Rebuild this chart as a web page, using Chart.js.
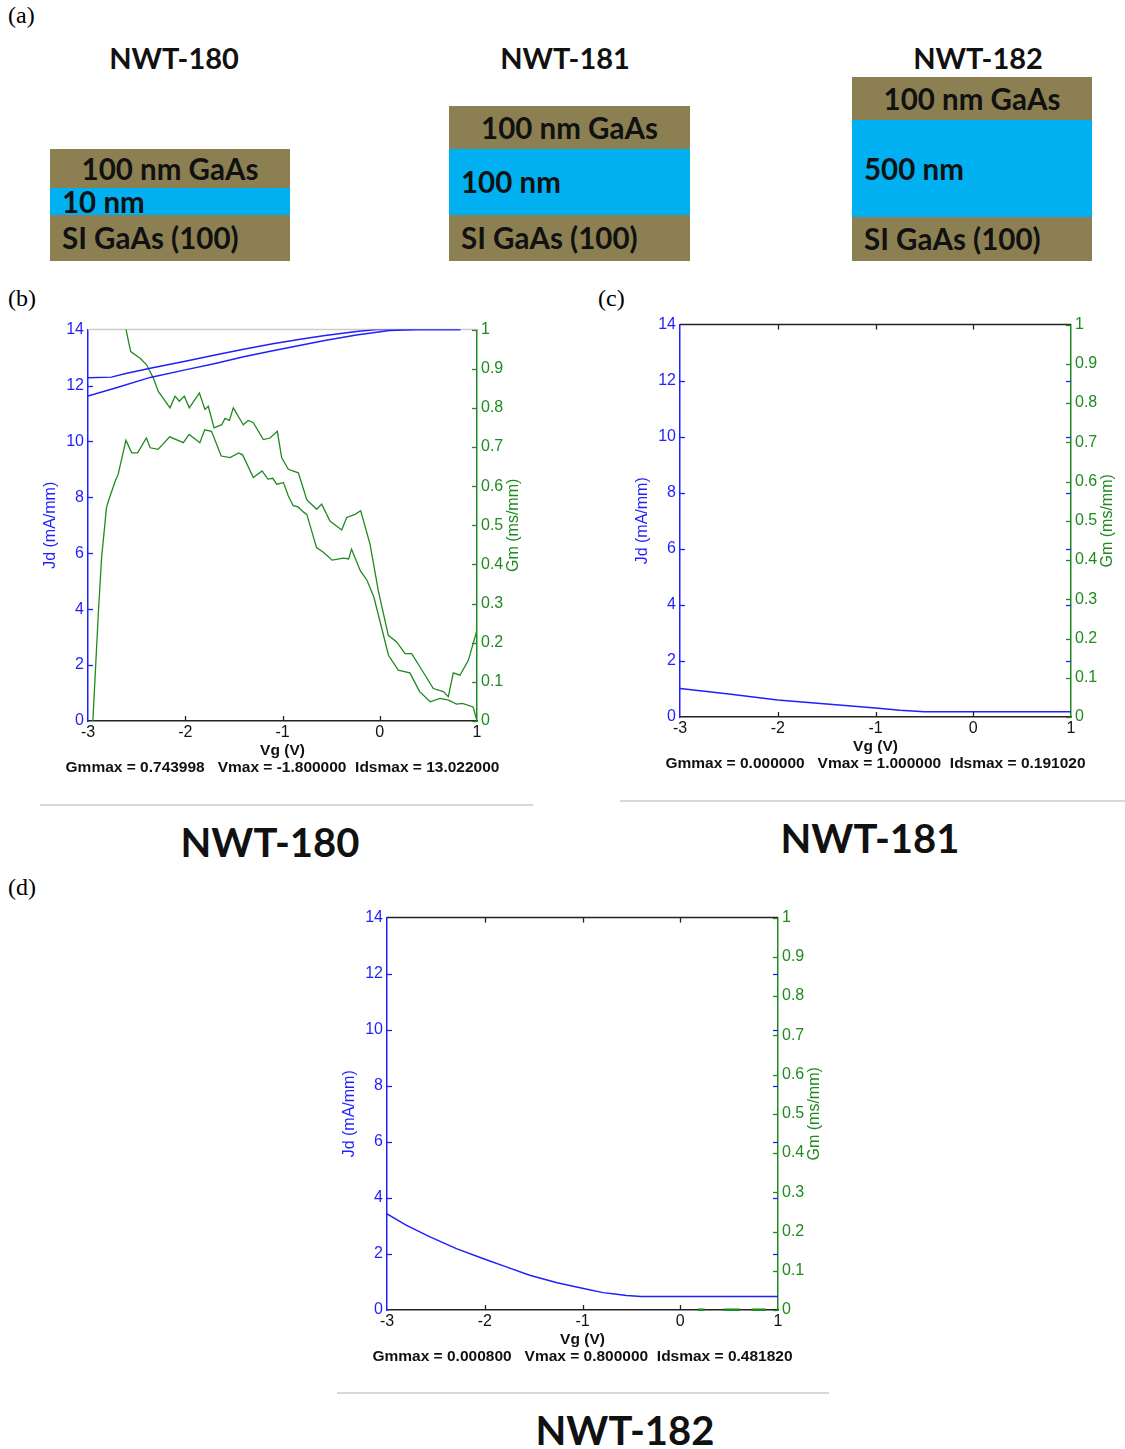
<!DOCTYPE html>
<html>
<head>
<meta charset="utf-8">
<title>NWT transfer characteristics</title>
<script src="https://cdn.jsdelivr.net/npm/chart.js@4.4.1/dist/chart.umd.min.js"></script>
<style>
html,body{margin:0;padding:0;background:#fff;}
body{position:relative;width:1125px;height:1449px;overflow:hidden;}
.tag{position:absolute;font-family:"Liberation Serif","Times New Roman",serif;font-size:24px;line-height:24px;color:#000;}
.name{position:absolute;font-family:Lato,"Open Sans",sans-serif;font-weight:700;color:#111;white-space:nowrap;line-height:1;transform:translate(-50%,-50%);}
.stack{position:absolute;display:flex;flex-direction:column;}
.layer{display:flex;align-items:center;font-family:Lato,"Open Sans",sans-serif;font-weight:700;font-size:29.5px;color:#111;padding-left:12px;box-sizing:border-box;white-space:nowrap;line-height:1;background:#8c8052;}
.layer.cap{justify-content:center;padding-left:0;}
.layer.well{background:#00b0f0;}
.rule{position:absolute;height:2px;background:#dcd9d2;}
canvas{position:absolute;}
</style>
</head>
<body>

<!-- (a) layer stacks of the three samples -->
<div class="tag" style="left:8px;top:3px;">(a)</div>
<div class="name" style="left:174px;top:57px;font-size:29px;">NWT-180</div>
<div class="name" style="left:565px;top:57px;font-size:29px;">NWT-181</div>
<div class="name" style="left:978px;top:57px;font-size:29px;">NWT-182</div>

<div class="stack" style="left:50px;top:149px;width:240px;">
  <div class="layer cap" style="height:39px;">100 nm GaAs</div>
  <div class="layer well" style="height:27px;">10 nm</div>
  <div class="layer" style="height:46px;">SI GaAs (100)</div>
</div>
<div class="stack" style="left:449px;top:106px;width:241px;">
  <div class="layer cap" style="height:43px;">100 nm GaAs</div>
  <div class="layer well" style="height:66px;">100 nm</div>
  <div class="layer" style="height:46px;">SI GaAs (100)</div>
</div>
<div class="stack" style="left:852px;top:77px;width:240px;">
  <div class="layer cap" style="height:43px;">100 nm GaAs</div>
  <div class="layer well" style="height:97px;">500 nm</div>
  <div class="layer" style="height:44px;">SI GaAs (100)</div>
</div>

<!-- (b), (c), (d) transfer curves -->
<div class="tag" style="left:8px;top:286px;">(b)</div>
<div class="tag" style="left:598px;top:286px;">(c)</div>
<div class="tag" style="left:8px;top:875px;">(d)</div>

<canvas id="c180"></canvas>
<canvas id="c181"></canvas>
<canvas id="c182"></canvas>

<div class="rule" style="left:40px;top:804px;width:493px;"></div>
<div class="rule" style="left:620px;top:800px;width:505px;"></div>
<div class="rule" style="left:337px;top:1392px;width:492px;"></div>

<div class="name" style="left:270px;top:842px;font-size:40px;">NWT-180</div>
<div class="name" style="left:870px;top:838px;font-size:40px;">NWT-181</div>
<div class="name" style="left:625px;top:1430px;font-size:40px;">NWT-182</div>

<script>
// ---- axis ticks ----
const vgTicks = [-3, -2, -1, 0, 1];
const jdTicks = [0, 2, 4, 6, 8, 10, 12, 14];
const gmTicks = [0, 0.1, 0.2, 0.3, 0.4, 0.5, 0.6, 0.7, 0.8, 0.9, 1];

// ---- NWT-180 : drain current, two sweep directions ----
const vg180JdA = [-3.0, -2.76, -2.6, -2.36, -2.0, -1.68, -1.4, -1.1, -0.8, -0.58, -0.24, -0.03, 0.3, 0.6, 0.83];
const jd180A   = [12.28, 12.30, 12.44, 12.62, 12.87, 13.10, 13.30, 13.49, 13.66, 13.78, 13.93, 14.0, 14.0, 14.0, 14.0];
const vg180JdB = [-3.0, -2.7, -2.36, -2.0, -1.68, -1.4, -1.1, -0.8, -0.58, -0.24, 0.1, 0.4, 0.83];
const jd180B   = [11.62, 11.93, 12.29, 12.56, 12.80, 13.03, 13.24, 13.45, 13.60, 13.81, 13.97, 14.0, 14.0];

// ---- NWT-180 : transconductance, two sweep directions ----
const vg180GmA = [-2.95, -2.894, -2.86, -2.81, -2.79, -2.72, -2.69, -2.61, -2.55, -2.49, -2.40, -2.36, -2.28, -2.16,
  -2.02, -1.96, -1.85, -1.80, -1.73, -1.63, -1.54, -1.45, -1.41, -1.30, -1.21, -1.15, -1.10, -1.06, -0.99, -0.94,
  -0.89, -0.84, -0.78, -0.75, -0.65, -0.58, -0.49, -0.37, -0.32, -0.29, -0.20, -0.13, -0.06, 0.09, 0.19, 0.31,
  0.41, 0.52, 0.62, 0.70, 0.79, 0.85, 0.96, 1.0];
const gm180A   = [0, 0.274, 0.418, 0.545, 0.562, 0.613, 0.630, 0.717, 0.685, 0.685, 0.723, 0.698, 0.694, 0.726,
  0.711, 0.732, 0.711, 0.744, 0.740, 0.677, 0.673, 0.685, 0.680, 0.622, 0.639, 0.618, 0.620, 0.605, 0.609, 0.575,
  0.550, 0.547, 0.533, 0.528, 0.443, 0.431, 0.411, 0.416, 0.414, 0.439, 0.384, 0.359, 0.316, 0.168, 0.130, 0.123,
  0.075, 0.049, 0.058, 0.054, 0.043, 0.045, 0.036, 0.0];
const vg180GmB = [-2.66, -2.609, -2.561, -2.465, -2.397, -2.328, -2.277, -2.157, -2.105, -2.061, -2.010, -1.958,
  -1.855, -1.797, -1.763, -1.704, -1.625, -1.591, -1.546, -1.506, -1.403, -1.352, -1.300, -1.197, -1.129, -1.053,
  -1.009, -0.940, -0.837, -0.751, -0.73, -0.648, -0.597, -0.512, -0.391, -0.340, -0.254, -0.196, -0.100, -0.015,
  0.088, 0.174, 0.260, 0.328, 0.414, 0.551, 0.654, 0.705, 0.756, 0.825, 0.911, 1.0];
const gm180B   = [1.2, 1.0, 0.944, 0.927, 0.910, 0.876, 0.842, 0.800, 0.830, 0.817, 0.830, 0.800,
  0.838, 0.796, 0.804, 0.749, 0.757, 0.773, 0.768, 0.800, 0.757, 0.768, 0.762, 0.719, 0.723, 0.740,
  0.673, 0.643, 0.634, 0.566, 0.560, 0.541, 0.554, 0.511, 0.488, 0.520, 0.528, 0.537, 0.452, 0.333,
  0.219, 0.202, 0.172, 0.172, 0.138, 0.083, 0.075, 0.062, 0.123, 0.117, 0.155, 0.232];

// ---- NWT-181 ----
const vg181Jd = [-3.0, -2.5, -2.0, -1.5, -1.0, -0.75, -0.5, 0.0, 0.5, 1.0];
const jd181   = [1.02, 0.82, 0.61, 0.46, 0.32, 0.24, 0.191, 0.191, 0.191, 0.191];

// ---- NWT-182 ----
const vg182Jd = [-3.0, -2.80, -2.56, -2.29, -2.02, -1.78, -1.54, -1.26, -0.99, -0.79, -0.65, -0.55, -0.40, 0.0, 0.5, 1.0];
const jd182   = [3.43, 3.02, 2.61, 2.19, 1.84, 1.54, 1.24, 0.97, 0.77, 0.62, 0.56, 0.52, 0.482, 0.482, 0.482, 0.482];
const vg182Gm = [0.18, 0.25, 0.30, 0.44, 0.61, 0.66, 0.73, 0.87];
const gm182   = [0.0008, 0.0008, null, 0.0008, 0.0008, null, 0.0008, 0.0008];

// ---- summary lines under each plot ----
const summary180 = 'Gmmax = 0.743998   Vmax = -1.800000  Idsmax = 13.022000';
const summary181 = 'Gmmax = 0.000000   Vmax = 1.000000  Idsmax = 0.191020';
const summary182 = 'Gmmax = 0.000800   Vmax = 0.800000  Idsmax = 0.481820';

const BLUE = '#1f1fff';
const GREEN = '#1f8a1f';
const FONT = '"Liberation Sans", Arial, Helvetica, sans-serif';

const pts = (xs, ys) => xs.map((x, i) => ({ x: x, y: ys[i] }));
const fixTicks = list => scale => { scale.ticks = list.map(v => ({ value: v })); };
const plainLabel = v => String(v);

// axis frame: top edge and inward tick marks
const frame = {
  id: 'frame',
  beforeDatasetsDraw(chart, _a, o) {
    const { ctx, chartArea: a } = chart;
    ctx.save();
    ctx.strokeStyle = o.topColor;
    ctx.lineWidth = 1.5;
    ctx.beginPath(); ctx.moveTo(a.left, a.top); ctx.lineTo(a.right, a.top); ctx.stroke();
    ctx.restore();
  },
  afterDatasetsDraw(chart, _a, o) {
    const { ctx, chartArea: a, scales } = chart;
    const L = 5;
    const seg = (x1, y1, x2, y2) => { ctx.beginPath(); ctx.moveTo(x1, y1); ctx.lineTo(x2, y2); ctx.stroke(); };
    ctx.save();
    ctx.lineWidth = 1.3;
    ctx.strokeStyle = '#222';
    vgTicks.forEach(v => {
      if (v <= scales.x.min || v >= scales.x.max) return;
      const px = Math.round(scales.x.getPixelForValue(v)) + 0.5;
      seg(px, a.bottom, px, a.bottom - L);
      if (o.topTicks) seg(px, a.top, px, a.top + L);
    });
    ctx.strokeStyle = BLUE;
    jdTicks.forEach(v => {
      if (v <= scales.y.min || v >= scales.y.max) return;
      const py = Math.round(scales.y.getPixelForValue(v)) + 0.5;
      seg(a.left, py, a.left + L, py);
      if (o.mirror) seg(a.right, py, a.right - L, py);
    });
    ctx.strokeStyle = GREEN;
    gmTicks.forEach(v => {
      const py = Math.round(scales.y2.getPixelForValue(v)) + 0.5;
      seg(a.right, py, a.right - L, py);
    });
    ctx.restore();
  }
};

// axis titles and the summary line
const captions = {
  id: 'captions',
  afterDraw(chart, _a, o) {
    const { ctx, chartArea: a } = chart;
    const midY = (a.top + a.bottom) / 2;
    const midX = (a.left + a.right) / 2;
    ctx.save();
    ctx.textAlign = 'center';
    ctx.textBaseline = 'middle';
    ctx.font = '16px ' + FONT;
    ctx.fillStyle = BLUE;
    ctx.save(); ctx.translate(a.left - 37, midY); ctx.rotate(-Math.PI / 2); ctx.fillText(o.yTitle, 0, 0); ctx.restore();
    ctx.fillStyle = GREEN;
    ctx.save(); ctx.translate(a.right + 37, midY); ctx.rotate(-Math.PI / 2); ctx.fillText(o.y2Title, 0, 0); ctx.restore();
    ctx.fillStyle = '#111';
    ctx.font = 'bold 15.5px ' + FONT;
    ctx.fillText(o.xTitle, midX, a.bottom + 30);
    ctx.fillText(o.summary, midX, a.bottom + 47);
    ctx.restore();
  }
};

const PAD_L = 60, PAD_R = 60, PAD_T = 12, PAD_B = 62;

function panel(id, area, datasets, opts) {
  const cv = document.getElementById(id);
  cv.width = (area.right - area.left) + PAD_L + PAD_R;
  cv.height = (area.bottom - area.top) + PAD_T + PAD_B;
  cv.style.left = (area.left - PAD_L) + 'px';
  cv.style.top = (area.top - PAD_T) + 'px';
  const tickFont = { family: FONT, size: 16 };
  const noGrid = { drawOnChartArea: false, drawTicks: false };
  return new Chart(cv, {
    type: 'line',
    data: { datasets: datasets },
    options: {
      responsive: false,
      animation: false,
      devicePixelRatio: 1,
      layout: { padding: { top: PAD_T, left: 0, right: 0, bottom: 0 } },
      elements: { point: { radius: 0 }, line: { tension: 0 } },
      plugins: {
        legend: { display: false },
        tooltip: { enabled: false },
        frame: { topColor: opts.topColor, topTicks: opts.topTicks, mirror: opts.mirror },
        captions: { yTitle: 'Jd (mA/mm)', y2Title: 'Gm (ms/mm)', xTitle: 'Vg (V)', summary: opts.summary }
      },
      scales: {
        x: {
          type: 'linear', position: 'bottom', min: -3, max: 1,
          afterBuildTicks: fixTicks(vgTicks),
          ticks: { color: '#111', font: tickFont, padding: 2, maxRotation: 0, autoSkip: false, callback: plainLabel },
          grid: noGrid,
          border: { color: '#222', width: 1.5 },
          afterFit: s => { s.height = PAD_B; }
        },
        y: {
          type: 'linear', position: 'left', min: 0, max: 14,
          afterBuildTicks: fixTicks(jdTicks),
          ticks: { color: BLUE, font: tickFont, padding: 4, autoSkip: false, callback: plainLabel },
          grid: noGrid,
          border: { color: BLUE, width: 1.5 },
          afterFit: s => { s.width = PAD_L; }
        },
        y2: {
          type: 'linear', position: 'right', min: 0, max: 1,
          afterBuildTicks: fixTicks(gmTicks),
          ticks: { color: GREEN, font: tickFont, padding: 4, autoSkip: false, callback: plainLabel },
          grid: noGrid,
          border: { color: GREEN, width: 1.5 },
          afterFit: s => { s.width = PAD_R; }
        }
      }
    },
    plugins: [frame, captions]
  });
}

const jdLine = (xs, ys) => ({ data: pts(xs, ys), yAxisID: 'y', borderColor: BLUE, borderWidth: 1.5, fill: false });
const gmLine = (xs, ys, w) => ({ data: pts(xs, ys), yAxisID: 'y2', borderColor: GREEN, borderWidth: w || 1.3, fill: false });

panel('c180', { left: 88, top: 328, right: 477, bottom: 721 }, [
  jdLine(vg180JdA, jd180A),
  jdLine(vg180JdB, jd180B),
  gmLine(vg180GmA, gm180A),
  gmLine(vg180GmB, gm180B)
], { topColor: '#cfcbc2', topTicks: false, mirror: false, summary: summary180 });

panel('c181', { left: 680, top: 323, right: 1071, bottom: 717 }, [
  jdLine(vg181Jd, jd181)
], { topColor: '#222', topTicks: true, mirror: true, summary: summary181 });

const gm182Line = gmLine(vg182Gm, gm182, 2.5);
gm182Line.clip = 4;
panel('c182', { left: 387, top: 916, right: 778, bottom: 1310 }, [
  jdLine(vg182Jd, jd182),
  gm182Line
], { topColor: '#222', topTicks: true, mirror: true, summary: summary182 });
</script>
</body>
</html>
